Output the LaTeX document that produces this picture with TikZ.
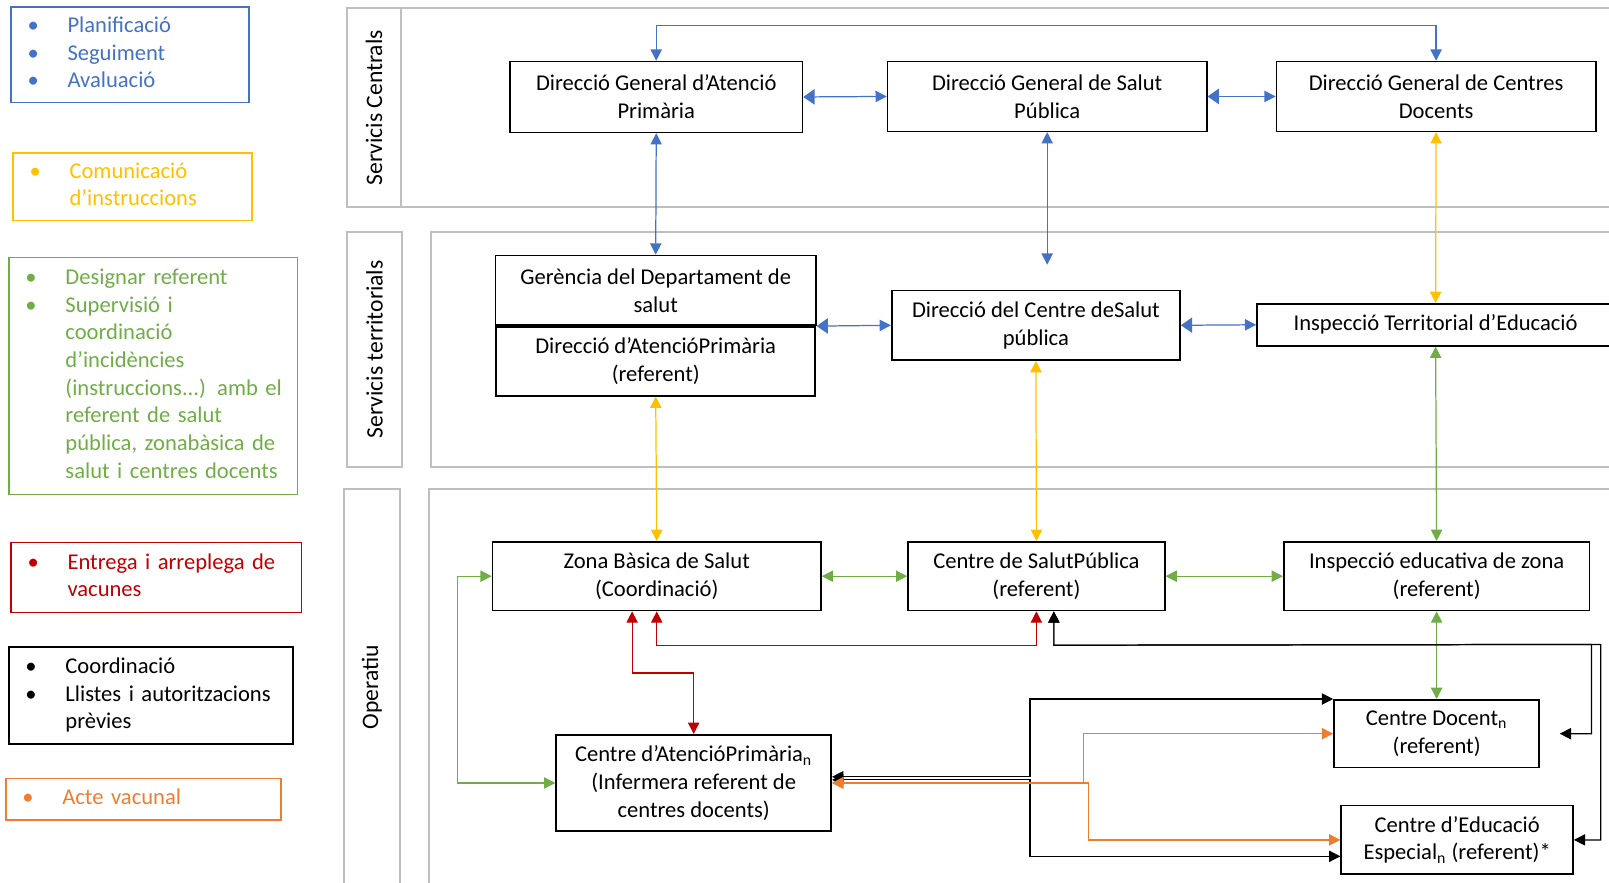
\documentclass[tikz,border=0pt]{standalone}
\usepackage{fontspec}
\setmainfont{Carlito}
\usetikzlibrary{arrows.meta, positioning}

\definecolor{cblue}{HTML}{4472C4}
\definecolor{cyellow}{HTML}{FFC000}
\definecolor{cgreen}{HTML}{70AD47}
\definecolor{cred}{HTML}{C00000}
\definecolor{corange}{HTML}{ED7D31}
\definecolor{cgray}{HTML}{BFBFBF}

\tikzset{
	orgbox/.style={draw, line width=0.8pt, align=center, inner sep=0pt,
		font=\fontsize{11}{13.5}\selectfont},
	lane/.style={draw=cgray, line width=1pt},
	lanelab/.style={draw=cgray, line width=1pt, rotate=90, inner sep=0pt,
		font=\fontsize{11.5}{13.5}\selectfont},
	legbox/.style={draw=#1, text=#1, line width=0.8pt, align=left,
		anchor=north west, inner xsep=8pt, inner ysep=0pt,
		font=\fontsize{11}{13.5}\selectfont},
	arr/.style={draw=#1, line width=0.6pt, <->},
	bigstart/.style={{Triangle[length=5.5pt,width=7.5pt]}-{Triangle[length=5.5pt,width=5.5pt]}},
}

\begin{document}
\begin{tikzpicture}[x=0.5pt, y=-0.5pt, >={Triangle[length=5.5pt,width=5.5pt]}]
\useasboundingbox (0,0) rectangle (1568,860);
\clip (0,0) rectangle (1568,860);

% Lanes
\draw[lane] (391,8) rectangle (1620,202);
\draw[lane] (420,226) rectangle (1620,455);
\draw[lane] (418,477) rectangle (1620,900);
\node[lanelab, minimum width=97pt, minimum height=26.5pt] (lcen) at (364.5,105) {Servicis Centrals};
\node[lanelab, minimum width=114.5pt, minimum height=27pt] (lter) at (365,340.5) {Servicis territorials};
\node[lanelab, minimum width=192.5pt, minimum height=27.5pt] (lope) at (362.5,669.5) {Operatiu};

% Legend
\node[legbox=cblue, minimum height=46.5pt, text width=100pt] (kplan) at (10,6)
	{\begin{tabular}{@{}p{19.5pt}@{}l@{}}
	\textbullet & Planificació\\
	\textbullet & Seguiment\\
	\textbullet & Avaluació
	\end{tabular}};
\node[legbox=cyellow, minimum height=33pt, text width=100.5pt] (kcom) at (12,148)
	{\begin{tabular}{@{}p{19.5pt}@{}l@{}}
	\textbullet & Comunicació\\
	 & d’instruccions
	\end{tabular}};
\node[legbox=cgreen, minimum height=115.5pt, text width=124.5pt] (kref) at (8,250)
	{\begin{tabular}{@{}p{19.5pt}@{}l@{}}
	\textbullet & Designar referent\\
	\textbullet & Supervisió i\\
	 & coordinació\\
	 & d’incidències\\
	 & (instruccions...) amb el\\
	 & referent de salut\\
	 & pública, zonabàsica de\\
	 & salut i centres docents
	\end{tabular}};
\node[legbox=cred, minimum height=34pt, text width=125.5pt] (kvac) at (10,528)
	{\begin{tabular}{@{}p{19.5pt}@{}l@{}}
	\textbullet & Entrega i arreplega de\\
	 & vacunes
	\end{tabular}};
\node[legbox=black, minimum height=47pt, text width=122.5pt] (kcoo) at (8,630)
	{\begin{tabular}{@{}p{19.5pt}@{}l@{}}
	\textbullet & Coordinació\\
	\textbullet & Llistes i autoritzacions\\
	 & prèvies
	\end{tabular}};
\node[legbox=corange, minimum height=20pt, text width=118pt] (kact) at (5,758)
	{\begin{tabular}{@{}p{19.5pt}@{}l@{}}
	\textbullet & Acte vacunal
	\end{tabular}};

% Servicis centrals
\node[orgbox, minimum width=142.5pt, minimum height=34.5pt] (dgap) at (639.5,94.5)
	{Direcció General d’Atenció\\Primària};
\node[orgbox, minimum width=155.5pt, minimum height=34pt] (dgsp) at (1020.5,94)
	{Direcció General de Salut\\Pública};
\node[orgbox, minimum width=155.5pt, minimum height=34pt] (dgcd) at (1399.5,94)
	{Direcció General de Centres\\Docents};

% Servicis territorials
\node[orgbox, minimum width=156pt, minimum height=34pt] (ger) at (639,283)
	{Gerència del Departament de\\salut};
\node[orgbox, minimum width=155.5pt, minimum height=33.5pt, below=0pt of ger] (dap)
	{Direcció d’AtencióPrimària\\(referent)};
\node[orgbox, minimum width=140.5pt, minimum height=34pt] (dcsp) at (1009.5,317)
	{Direcció del Centre deSalut\\pública};
\node[orgbox, minimum width=174pt, minimum height=20.5pt] (ite) at (1399,316.5)
	{Inspecció Territorial d’Educació};

% Operatiu
\node[orgbox, minimum width=160pt, minimum height=33.5pt] (zbs) at (640,561.5)
	{Zona Bàsica de Salut\\(Coordinació)};
\node[orgbox, minimum width=125pt, minimum height=33.5pt] (csp) at (1010,561.5)
	{Centre de SalutPública\\(referent)};
\node[orgbox, minimum width=149pt, minimum height=33.5pt] (iez) at (1400,561.5)
	{Inspecció educativa de zona\\(referent)};
\node[orgbox, minimum width=134pt, minimum height=47pt] (cap) at (676,763)
	{Centre d’AtencióPrimària\textsubscript{n}\\(Infermera referent de\\centres docents)};
\node[orgbox, minimum width=100pt, minimum height=33pt] (cd) at (1400,715)
	{Centre Docent\textsubscript{n}\\(referent)};
\node[orgbox, minimum width=113pt, minimum height=33.5pt] (cee) at (1420,818.5)
	{Centre d’Educació\\Especial\textsubscript{n} (referent)*};

\coordinate (dspend) at (1020.5,258);
\coordinate (cdend) at (1520,715);

% Planificacio, seguiment
\draw[arr=cblue] (dgap.north) -- ++(0,-34) -| (dgcd.north);
\draw[arr=cblue, bigstart] (dgap.east) -- (dgsp.west);
\draw[arr=cblue, bigstart] (dgsp.east) -- (dgcd.west);
\draw[arr=cblue] (dgap.south) -- (ger.north);
\draw[arr=cblue] (dgsp.south) -- (dspend);
\draw[arr=cblue, bigstart] (ger.south east) -- (dcsp.west);
\draw[arr=cblue, bigstart] (dcsp.east) -- (ite.west);

% Instruccions
\draw[arr=cyellow] (dgcd.south) -- (ite.north);
\draw[arr=cyellow] (dap.south) -- (zbs.north);
\draw[arr=cyellow] (dcsp.south) -- (csp.north);

% Referents
\draw[arr=cgreen] (ite.south) -- (iez.north);
\draw[arr=cgreen] (zbs.east) -- (csp.west);
\draw[arr=cgreen] (csp.east) -- (iez.west);
\draw[arr=cgreen] (iez.south) -- (cd.north);
\draw[arr=cgreen] (zbs.west) -- ++(-33,0) |- (cap.west);

% Vacunes
\draw[arr=cred] ([xshift=-12pt]zbs.south) -- ++(0,60) -| (cap.north);
\draw[arr=cred] (zbs.south) -- ++(0,33) -| (csp.south);

% Coordinacio
\draw[arr=black] ([xshift=8.5pt]csp.south) -- ++(0,33) -- (1551,628) |- (cdend);
\draw[arr=black] ([xshift=8.5pt]csp.south) -- ++(0,33) -- (1560,628) |- (cee.east);
\draw[arr=black] ([yshift=3pt]cap.east) -- ++(193,0) |- (cd.north west);
\draw[arr=black] ([yshift=1.5pt]cap.east) -- ++(193,0) |- ([yshift=-8pt]cee.west);

% Acte vacunal
\draw[arr=corange] (cap.east) -- ++(245,0) |- (cd.west);
\draw[arr=corange] (cap.east) -- ++(250,0) |- (cee.west);
\end{tikzpicture}
\end{document}
